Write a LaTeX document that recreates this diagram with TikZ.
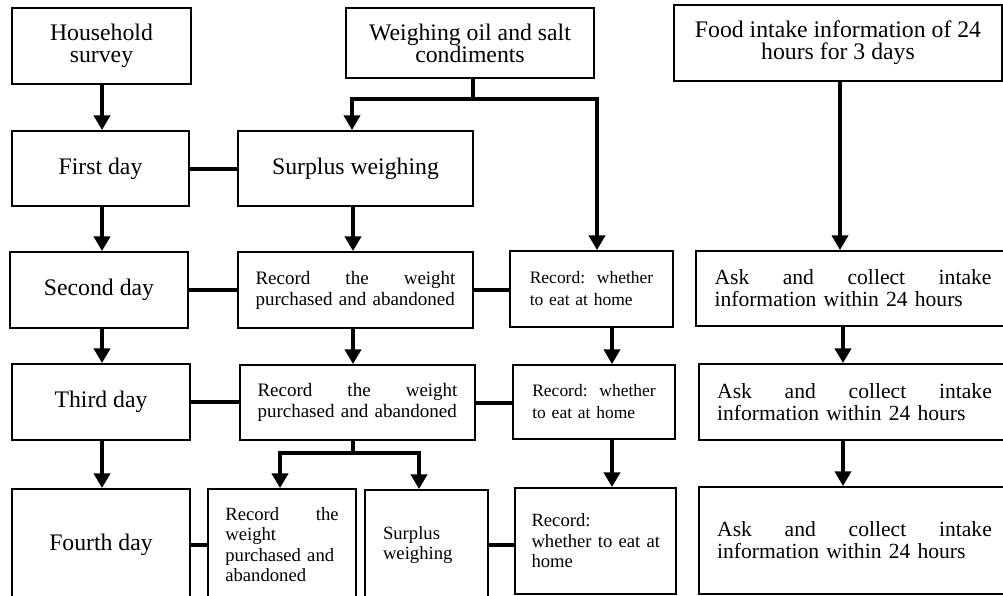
\documentclass[tikz,border=0pt]{standalone}
\usepackage{fontspec}
\setmainfont{Liberation Serif}
\usetikzlibrary{arrows.meta}
\begin{document}
\begin{tikzpicture}[x=0.75pt,y=-0.75pt,
  bb/.style n args={4}{at={({(#1+#3)/2},{(#2+#4)/2})}, minimum width={(#3-#1)*0.75pt}, minimum height={(#4-#2)*0.75pt}},
  box/.style={draw, line width=1.4pt, inner sep=0pt},
  big/.style={font=\fontsize{17.8pt}{16.5pt}\selectfont, align=center},
  rwa/.style={font=\fontsize{14.25pt}{15.75pt}\selectfont, align=left, text width=150pt},
  rwb/.style={font=\fontsize{13.1pt}{16.5pt}\selectfont, align=left, text width=92.5pt},
  sm/.style={font=\fontsize{14pt}{15.4pt}\selectfont, align=left},
  ask/.style={font=\fontsize{16.2pt}{16.5pt}\selectfont, align=left, text width=206pt},
  >={Triangle[length=11pt,width=12pt]},
  arr/.style={line width=3.4pt, ->},
  ln/.style={line width=3pt}]
\useasboundingbox (0,0) rectangle (1003,596);
\clip (0,0) rectangle (1003,596);
% top row
\node[box, big, bb={12}{8}{191}{84}] (hh) {Household\\survey};
\node[box, big, bb={346}{8}{594}{78}] (weigh) {Weighing oil and salt\\condiments};
\node[box, big, bb={674}{5}{1002}{81}] (food) {Food intake information of 24\\hours for 3 days};
% first day
\node[box, big, bb={12}{131}{189}{206}] (first) {First day};
\node[box, big, bb={238}{131}{473}{206}] (surplus) {Surplus weighing};
% second day
\node[box, big, bb={10}{252}{188}{328}] (second) {Second day};
\node[box, rwa, bb={238}{252}{473}{328}] (rw2) {Record\hfill the\hfill weight\\purchased and abandoned};
\node[box, rwb, bb={510}{251}{673}{327}] (rwh2) {Record:\hfill whether\\to eat at home};
\node[box, ask, text width=207.75pt, bb={696}{251}{1010}{326}] (ask1) {Ask\hfill and\hfill collect\hfill intake\\information within 24 hours};
% third day
\node[box, big, bb={12}{364}{190}{440}] (third) {Third day};
\node[box, rwa, bb={240}{365}{475}{440}] (rw3) {Record\hfill the\hfill weight\\purchased and abandoned};
\node[box, rwb, bb={513}{365}{675}{439}] (rwh3) {Record:\hfill whether\\to eat at home};
\node[box, ask, bb={699}{364}{1010}{440}] (ask2) {Ask\hfill and\hfill collect\hfill intake\\information within 24 hours};
% fourth day
\node[box, big, bb={12}{489}{190}{600}] (fourth) {Fourth day};
\node[box, sm, text width=85pt, bb={208}{489}{356}{600}] (rw4) {Record\hfill the\\weight\\\mbox{purchased and}\\abandoned};
\node[box, sm, text width=65.25pt, bb={365}{490}{488}{600}] (sur4) {Surplus\\weighing};
\node[box, sm, text width=96pt, bb={515}{488}{676}{594}] (rwh4) {Record:\\\mbox{whether to eat at}\\home};
\node[box, ask, bb={699}{487}{1010}{594}] (ask3) {Ask\hfill and\hfill collect\hfill intake\\information within 24 hours};
% helper coordinates
\coordinate (j1) at (473,99);
\coordinate (bL) at (352,99);
\coordinate (bR) at (597,99);
\coordinate (k1) at (353,453);
\coordinate (kL) at (280,453);
\coordinate (kR) at (419,453);
\coordinate (xd) at (102,0);
\coordinate (xs) at (353,0);
\coordinate (xr) at (612,0);
\coordinate (xf) at (840,0);
\coordinate (xa) at (843,0);
% left column arrows
\draw[arr] (hh.south -| xd) -- (first.north -| xd);
\draw[arr] (first.south -| xd) -- (second.north -| xd);
\draw[arr] (second.south -| xd) -- (third.north -| xd);
\draw[arr] (third.south -| xd) -- (fourth.north -| xd);
% horizontal links
\draw[ln] (first.east) -- (first.east -| surplus.west);
\draw[ln] (second.east) -- (second.east -| rw2.west);
\draw[ln] (rw2.east) -- (rw2.east -| rwh2.west);
\draw[ln] (third.east) -- (third.east -| rw3.west);
\draw[ln] (rw3.east) -- (rw3.east -| rwh3.west);
\draw[ln] (fourth.east) -- (fourth.east -| rw4.west);
\draw[ln] (sur4.east) -- (sur4.east -| rwh4.west);
% weighing branch
\draw[ln] (weigh.south -| j1) -- (j1);
\draw[arr, <->] (surplus.north -| bL) -- (bL) -- (bR) -- (rwh2.north -| bR);
% middle column
\draw[arr] (surplus.south -| xs) -- (rw2.north -| xs);
\draw[arr] (rw2.south -| xs) -- (rw3.north -| xs);
\draw[ln] (rw3.south -| k1) -- (k1);
\draw[arr, <->] (rw4.north -| kL) -- (kL) -- (kR) -- (sur4.north -| kR);
% record whether column
\draw[arr] (rwh2.south -| xr) -- (rwh3.north -| xr);
\draw[arr] (rwh3.south -| xr) -- (rwh4.north -| xr);
% food intake column
\draw[arr] (food.south -| xf) -- (ask1.north -| xf);
\draw[arr] (ask1.south -| xa) -- (ask2.north -| xa);
\draw[arr] (ask2.south -| xa) -- (ask3.north -| xa);
\end{tikzpicture}
\end{document}
